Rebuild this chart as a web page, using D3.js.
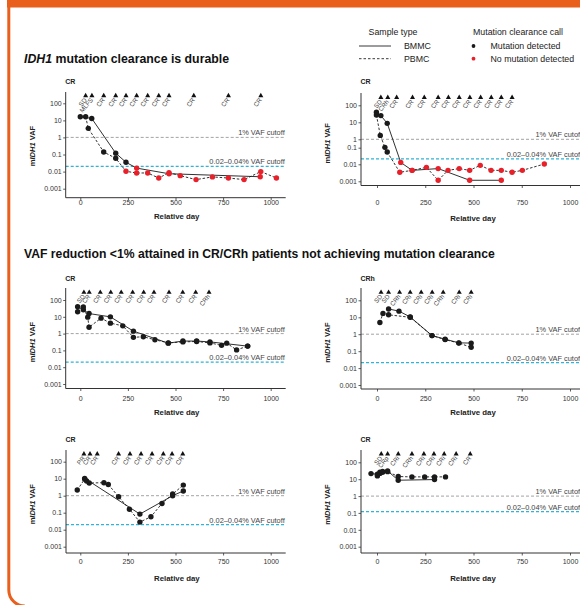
<!DOCTYPE html>
<html>
<head>
<meta charset="utf-8">
<script src="https://cdn.jsdelivr.net/npm/d3@7"></script>
<style>
body { margin: 0; background: #fff; }
svg { display: block; font-family: "Liberation Sans", Arial, sans-serif; }
</style>
</head>
<body>
<svg id="chart" width="580" height="605"></svg>
<script>
// ---- data ----
// each point: [relative day, mIDH1 VAF (%), detected 1 / not detected 0]
var panelTitles = ["CR", "CR", "CR", "CRh", "CR", "CR"];
var yTicks = [0.001, 0.01, 0.1, 1, 10, 100];
var xTicks = [0, 250, 500, 750, 1000];
var vafCutoff = 1;
var lodCutoffs = [0.02, 0.021, 0.02, 0.021, 0.02, 0.12];

var p1RespDays = [28, 61, 123, 186, 240, 296, 354, 412, 466, 596, 778, 948];
var p1RespLabels = ["SD", "MLFS", "CR", "CR", "CR", "CR", "CR", "CR", "CR", "CR", "CR", "CR"];
var p1Bmmc = [[0, 16.5, 1], [60, 13, 1], [186, 0.12, 1], [240, 0.035, 1], [296, 0.016, 0], [466, 0.0075, 0], [945, 0.005, 0]];
var p1Pbmc = [[28, 16.5, 1], [42, 3.4, 1], [123, 0.14, 1], [186, 0.06, 1], [240, 0.0104, 0], [296, 0.0083, 0], [354, 0.0083, 0], [412, 0.0042, 0], [466, 0.0087, 0], [525, 0.0058, 0], [608, 0.0034, 0], [694, 0.0049, 0], [778, 0.0042, 0], [860, 0.0034, 0], [948, 0.01, 0], [1030, 0.0042, 0]];

var p2RespDays = [20, 56, 102, 184, 245, 317, 370, 426, 481, 537, 592, 644, 700];
var p2RespLabels = ["SD", "CRh", "CR", "CR", "CR", "CR", "CR", "CR", "CR", "CR", "CR", "CR", "CR"];
var p2Bmmc = [[-3, 39, 1], [20, 24.7, 1], [53, 8.7, 1], [123, 0.013, 0], [182, 0.0044, 0], [317, 0.0056, 0], [480, 0.00115, 0], [644, 0.00115, 0]];
var p2Pbmc = [[-3, 27, 1], [17, 1.7, 1], [41, 0.11, 1], [53, 0.055, 1], [118, 0.0034, 0], [182, 0.0044, 0], [256, 0.0066, 0], [317, 0.00115, 0], [368, 0.0044, 0], [426, 0.0056, 0], [480, 0.0044, 0], [535, 0.0087, 0], [591, 0.0044, 0], [644, 0.0044, 0], [700, 0.0034, 0], [753, 0.0044, 0], [867, 0.0104, 0]];

var p3RespDays = [19, 47, 105, 160, 215, 275, 333, 387, 466, 538, 606, 676];
var p3RespLabels = ["SD", "CR", "CR", "CR", "CR", "CR", "CR", "CR", "CR", "CR", "CR", "CRh"];
var p3Bmmc = [[-14, 40, 1], [16, 26, 1], [46, 15.6, 1], [158, 9.9, 1], [279, 1.4, 1], [462, 0.27, 1], [539, 0.36, 1], [611, 0.36, 1], [681, 0.32, 1], [879, 0.18, 1]];
var p3Pbmc = [[-14, 20, 1], [16, 38, 1], [39, 9.5, 1], [46, 2.4, 1], [109, 8.3, 1], [158, 4.2, 1], [223, 2.9, 1], [279, 0.6, 1], [331, 0.65, 1], [392, 0.43, 1], [462, 0.28, 1], [539, 0.32, 1], [611, 0.34, 1], [681, 0.28, 1], [742, 0.2, 1], [769, 0.27, 1], [821, 0.107, 1], [879, 0.18, 1]];

var p4RespDays = [21, 60, 117, 172, 229, 286, 343, 426, 488];
var p4RespLabels = ["SD", "SD", "CRh", "CRi", "CRi", "CRi", "CRh", "CRi", "CRi"];
var p4Bmmc = [[60, 31, 1], [114, 23, 1], [172, 10.5, 1], [285, 0.83, 1], [353, 0.51, 1], [424, 0.31, 1], [488, 0.3, 1]];
var p4Pbmc = [[15, 4.9, 1], [31, 17, 1], [60, 14, 1], [172, 10, 1], [285, 0.83, 1], [353, 0.48, 1], [424, 0.3, 1], [488, 0.17, 1]];

var p5RespDays = [19, 51, 89, 201, 261, 319, 377, 436, 482, 538];
var p5RespLabels = ["PR", "CR", "CR", "CR", "CR", "CR", "CR", "CR", "CR", "CR"];
var p5Bmmc = [[23, 10.5, 1], [313, 0.083, 1], [485, 1.0, 1], [541, 1.9, 1]];
var p5Pbmc = [[-16, 2.15, 1], [23, 9.5, 1], [33, 7.3, 1], [47, 5.6, 1], [124, 5.8, 1], [147, 4.6, 1], [201, 0.87, 1], [258, 0.16, 1], [313, 0.028, 1], [371, 0.058, 1], [429, 0.35, 1], [485, 1.25, 1], [541, 4.2, 1]];

var p6RespDays = [22, 55, 110, 181, 243, 295, 348, 410, 483];
var p6RespLabels = ["SD", "CRp", "CRi", "CRh", "CRi", "CRi", "CRi", "CRi", "CR"];
var p6Bmmc = [[-31, 21.5, 1], [2, 19.7, 1], [15, 26, 1], [29, 29, 1], [55, 31, 1], [110, 8.7, 1], [298, 9.5, 1]];
var p6Pbmc = [[2, 15.7, 1], [15, 22, 1], [29, 26, 1], [55, 28, 1], [110, 14.4, 1], [181, 13.7, 1], [247, 13.7, 1], [298, 13.7, 1], [355, 13.7, 1]];

var panels = [
    {resp: p1RespDays, labels: p1RespLabels, bmmc: p1Bmmc, pbmc: p1Pbmc},
    {resp: p2RespDays, labels: p2RespLabels, bmmc: p2Bmmc, pbmc: p2Pbmc},
    {resp: p3RespDays, labels: p3RespLabels, bmmc: p3Bmmc, pbmc: p3Pbmc},
    {resp: p4RespDays, labels: p4RespLabels, bmmc: p4Bmmc, pbmc: p4Pbmc},
    {resp: p5RespDays, labels: p5RespLabels, bmmc: p5Bmmc, pbmc: p5Pbmc},
    {resp: p6RespDays, labels: p6RespLabels, bmmc: p6Bmmc, pbmc: p6Pbmc}
];

// ---- layout (pixels) ----
// ax: y axis x, x0/x1000: pixel of day 0 / 1000, xEnd: right end of axis,
// ypx: pixel of each y tick (0.001 ... 100), yBot: x axis y, yTop: top of y axis,
// tri: triangle row, ty: panel title baseline, xl / rd: centre of tick labels / axis title
var layout = [
    {ax: 65.7, x0: 80.3, x1000: 270.7, xEnd: 285.7, ypx: [188.7, 171.6, 154.5, 137.4, 120.4, 103.3], yBot: 197.7, yTop: 92, tri: 95.7, ty: 83.5, xl: 202.7, rd: 216.7},
    {ax: 361, x0: 377, x1000: 570, xEnd: 583, ypx: [181.3, 164.3, 147.7, 139.3, 122.3, 105.3], yBot: 185.5, yTop: 93, tri: 97.5, ty: 83.5, xl: 202.7, rd: 218},
    {ax: 65.7, x0: 80.3, x1000: 270.7, xEnd: 285.7, ypx: [384, 367.2, 350.4, 333.6, 316.8, 300], yBot: 388.5, yTop: 288, tri: 292.3, ty: 280.5, xl: 399, rd: 412.5},
    {ax: 361, x0: 377, x1000: 570, xEnd: 583, ypx: [385, 368.1, 351.2, 334.2, 317.3, 300.3], yBot: 389, yTop: 288, tri: 292.3, ty: 280.5, xl: 399, rd: 412.5},
    {ax: 66, x0: 80.3, x1000: 270.7, xEnd: 285.7, ypx: [546.7, 529.7, 512.7, 495.7, 478.7, 461.7], yBot: 553, yTop: 450, tri: 454, ty: 441.5, xl: 561.6, rd: 578},
    {ax: 361, x0: 377, x1000: 570, xEnd: 583, ypx: [546.7, 529.8, 512.9, 496.1, 479.2, 462.3], yBot: 553, yTop: 450, tri: 454, ty: 441.5, xl: 561.6, rd: 578}
];

var orange = "#e8601c";
var red = "#e8202a";
var black = "#1a1a1a";
var cyan = "#2fb3d6";

var svg = d3.select("#chart");

// frame
svg.append("rect").attr("x", 7).attr("y", 0).attr("width", 573).attr("height", 7.5).attr("fill", orange);
svg.append("path")
    .attr("d", "M8.8,0 L8.8,590 A16,16 0 0 0 24.8,606")
    .attr("fill", "none").attr("stroke", orange).attr("stroke-width", 3);

// section titles
var t1 = svg.append("text").attr("x", 24).attr("y", 63).attr("font-size", 12.3).attr("font-weight", "bold").attr("fill", "#111");
t1.append("tspan").attr("font-style", "italic").text("IDH1");
t1.append("tspan").text(" mutation clearance is durable");
svg.append("text").attr("x", 24).attr("y", 258).attr("font-size", 12.2).attr("font-weight", "bold").attr("fill", "#111")
    .text("VAF reduction <1% attained in CR/CRh patients not achieving mutation clearance");

// legend
var lg = svg.append("g").attr("font-size", 8.8).attr("fill", "#222");
lg.append("text").attr("x", 393).attr("y", 34.8).attr("text-anchor", "middle").text("Sample type");
lg.append("line").attr("x1", 359).attr("x2", 391).attr("y1", 46).attr("y2", 46).attr("stroke", "#222").attr("stroke-width", 0.9);
lg.append("line").attr("x1", 359).attr("x2", 391).attr("y1", 58.7).attr("y2", 58.7).attr("stroke", "#222").attr("stroke-width", 0.9).attr("stroke-dasharray", "2.5,2");
lg.append("text").attr("x", 404).attr("y", 49.2).text("BMMC");
lg.append("text").attr("x", 404).attr("y", 61.9).text("PBMC");
lg.append("text").attr("x", 473).attr("y", 34.8).text("Mutation clearance call");
lg.append("circle").attr("cx", 473.5).attr("cy", 46).attr("r", 1.9).attr("fill", black);
lg.append("circle").attr("cx", 473.5).attr("cy", 58.7).attr("r", 1.9).attr("fill", red);
lg.append("text").attr("x", 490.5).attr("y", 49.2).text("Mutation detected");
lg.append("text").attr("x", 490.5).attr("y", 61.9).text("No mutation detected");

panels.forEach(function (p, i) {
    var L = layout[i];
    var x = d3.scaleLinear().domain([0, 1000]).range([L.x0, L.x1000]);
    var y = d3.scaleLog().domain(yTicks).range(L.ypx);
    var g = svg.append("g");

    g.append("text").attr("x", L.ax - 0.5).attr("y", L.ty).attr("font-size", 7).attr("font-weight", "bold").attr("fill", "#222").text(panelTitles[i]);

    // cutoff lines
    g.append("line").attr("x1", L.ax).attr("x2", L.xEnd).attr("y1", y(vafCutoff)).attr("y2", y(vafCutoff))
        .attr("stroke", "#8c8c8c").attr("stroke-width", 0.8).attr("stroke-dasharray", "3,2");
    g.append("line").attr("x1", L.ax).attr("x2", L.xEnd).attr("y1", y(lodCutoffs[i])).attr("y2", y(lodCutoffs[i]))
        .attr("stroke", cyan).attr("stroke-width", 1.2).attr("stroke-dasharray", "3,2");
    g.append("text").attr("x", L.xEnd - 1).attr("y", y(vafCutoff) - 2).attr("text-anchor", "end")
        .attr("font-size", 7.4).attr("fill", "#444").text("1% VAF cutoff");
    g.append("text").attr("x", L.xEnd - 1).attr("y", y(lodCutoffs[i]) - 2).attr("text-anchor", "end")
        .attr("font-size", 7.4).attr("fill", "#444").text("0.02\u20130.04% VAF cutoff");

    // axes
    var xAxis = d3.axisBottom(x).tickValues(xTicks).tickSize(2.5).tickFormat(d3.format("d"));
    var gx = g.append("g").attr("transform", "translate(0," + L.yBot + ")").call(xAxis);
    gx.select(".domain").remove();
    gx.selectAll("text").attr("y", L.xl - L.yBot).attr("dy", "0.35em");
    var yAxis = d3.axisLeft(y).tickValues(yTicks).tickSize(2.5).tickPadding(1.5).tickFormat(function (d) { return String(d); });
    var gy = g.append("g").attr("transform", "translate(" + L.ax + ",0)").call(yAxis);
    gy.select(".domain").remove();
    [gx, gy].forEach(function (a) {
        a.selectAll("text").attr("font-size", 7).attr("fill", "#333").attr("font-family", "Liberation Sans, Arial, sans-serif");
        a.selectAll("line").attr("stroke", "#333").attr("stroke-width", 0.8);
    });
    g.append("path").attr("d", "M" + L.ax + "," + L.yTop + "V" + L.yBot + "H" + L.xEnd)
        .attr("fill", "none").attr("stroke", "#333").attr("stroke-width", 1);

    g.append("text").attr("x", (L.ax + L.xEnd) / 2 + 1).attr("y", L.rd).attr("dy", "0.35em").attr("text-anchor", "middle")
        .attr("font-size", 7.8).attr("font-weight", "bold").attr("fill", "#222").text("Relative day");
    var yl = g.append("text")
        .attr("transform", "translate(" + (L.ax - 33.5) + "," + ((L.ypx[0] + L.ypx[5]) / 2) + ") rotate(-90)")
        .attr("text-anchor", "middle").attr("dy", "0.35em").attr("font-size", 7.5).attr("font-weight", "bold").attr("fill", "#222");
    yl.append("tspan").text("m");
    yl.append("tspan").attr("font-style", "italic").text("IDH1");
    yl.append("tspan").text(" VAF");

    // response assessments
    var tri = d3.symbol().type(d3.symbolTriangle).size(11);
    p.resp.forEach(function (d, k) {
        g.append("path").attr("d", tri()).attr("transform", "translate(" + x(d) + "," + L.tri + ")").attr("fill", "#111");
        g.append("text").attr("transform", "translate(" + (x(d) + 1.5) + "," + (L.tri + 4.5) + ") rotate(-50)")
            .attr("text-anchor", "end").attr("font-size", 6.3).attr("fill", "#444").text(p.labels[k]);
    });

    // series
    var line = d3.line().x(function (d) { return x(d[0]); }).y(function (d) { return y(d[1]); });
    g.append("path").datum(p.pbmc).attr("d", line).attr("fill", "none").attr("stroke", black)
        .attr("stroke-width", 0.9).attr("stroke-dasharray", "2.5,1.8");
    g.append("path").datum(p.bmmc).attr("d", line).attr("fill", "none").attr("stroke", black).attr("stroke-width", 0.9);
    g.selectAll("circle.pt").data(p.pbmc.concat(p.bmmc)).enter().append("circle").attr("class", "pt")
        .attr("cx", function (d) { return x(d[0]); })
        .attr("cy", function (d) { return y(d[1]); })
        .attr("r", 2.7)
        .attr("fill", function (d) { return d[2] ? black : red; });
});
</script>
</body>
</html>
